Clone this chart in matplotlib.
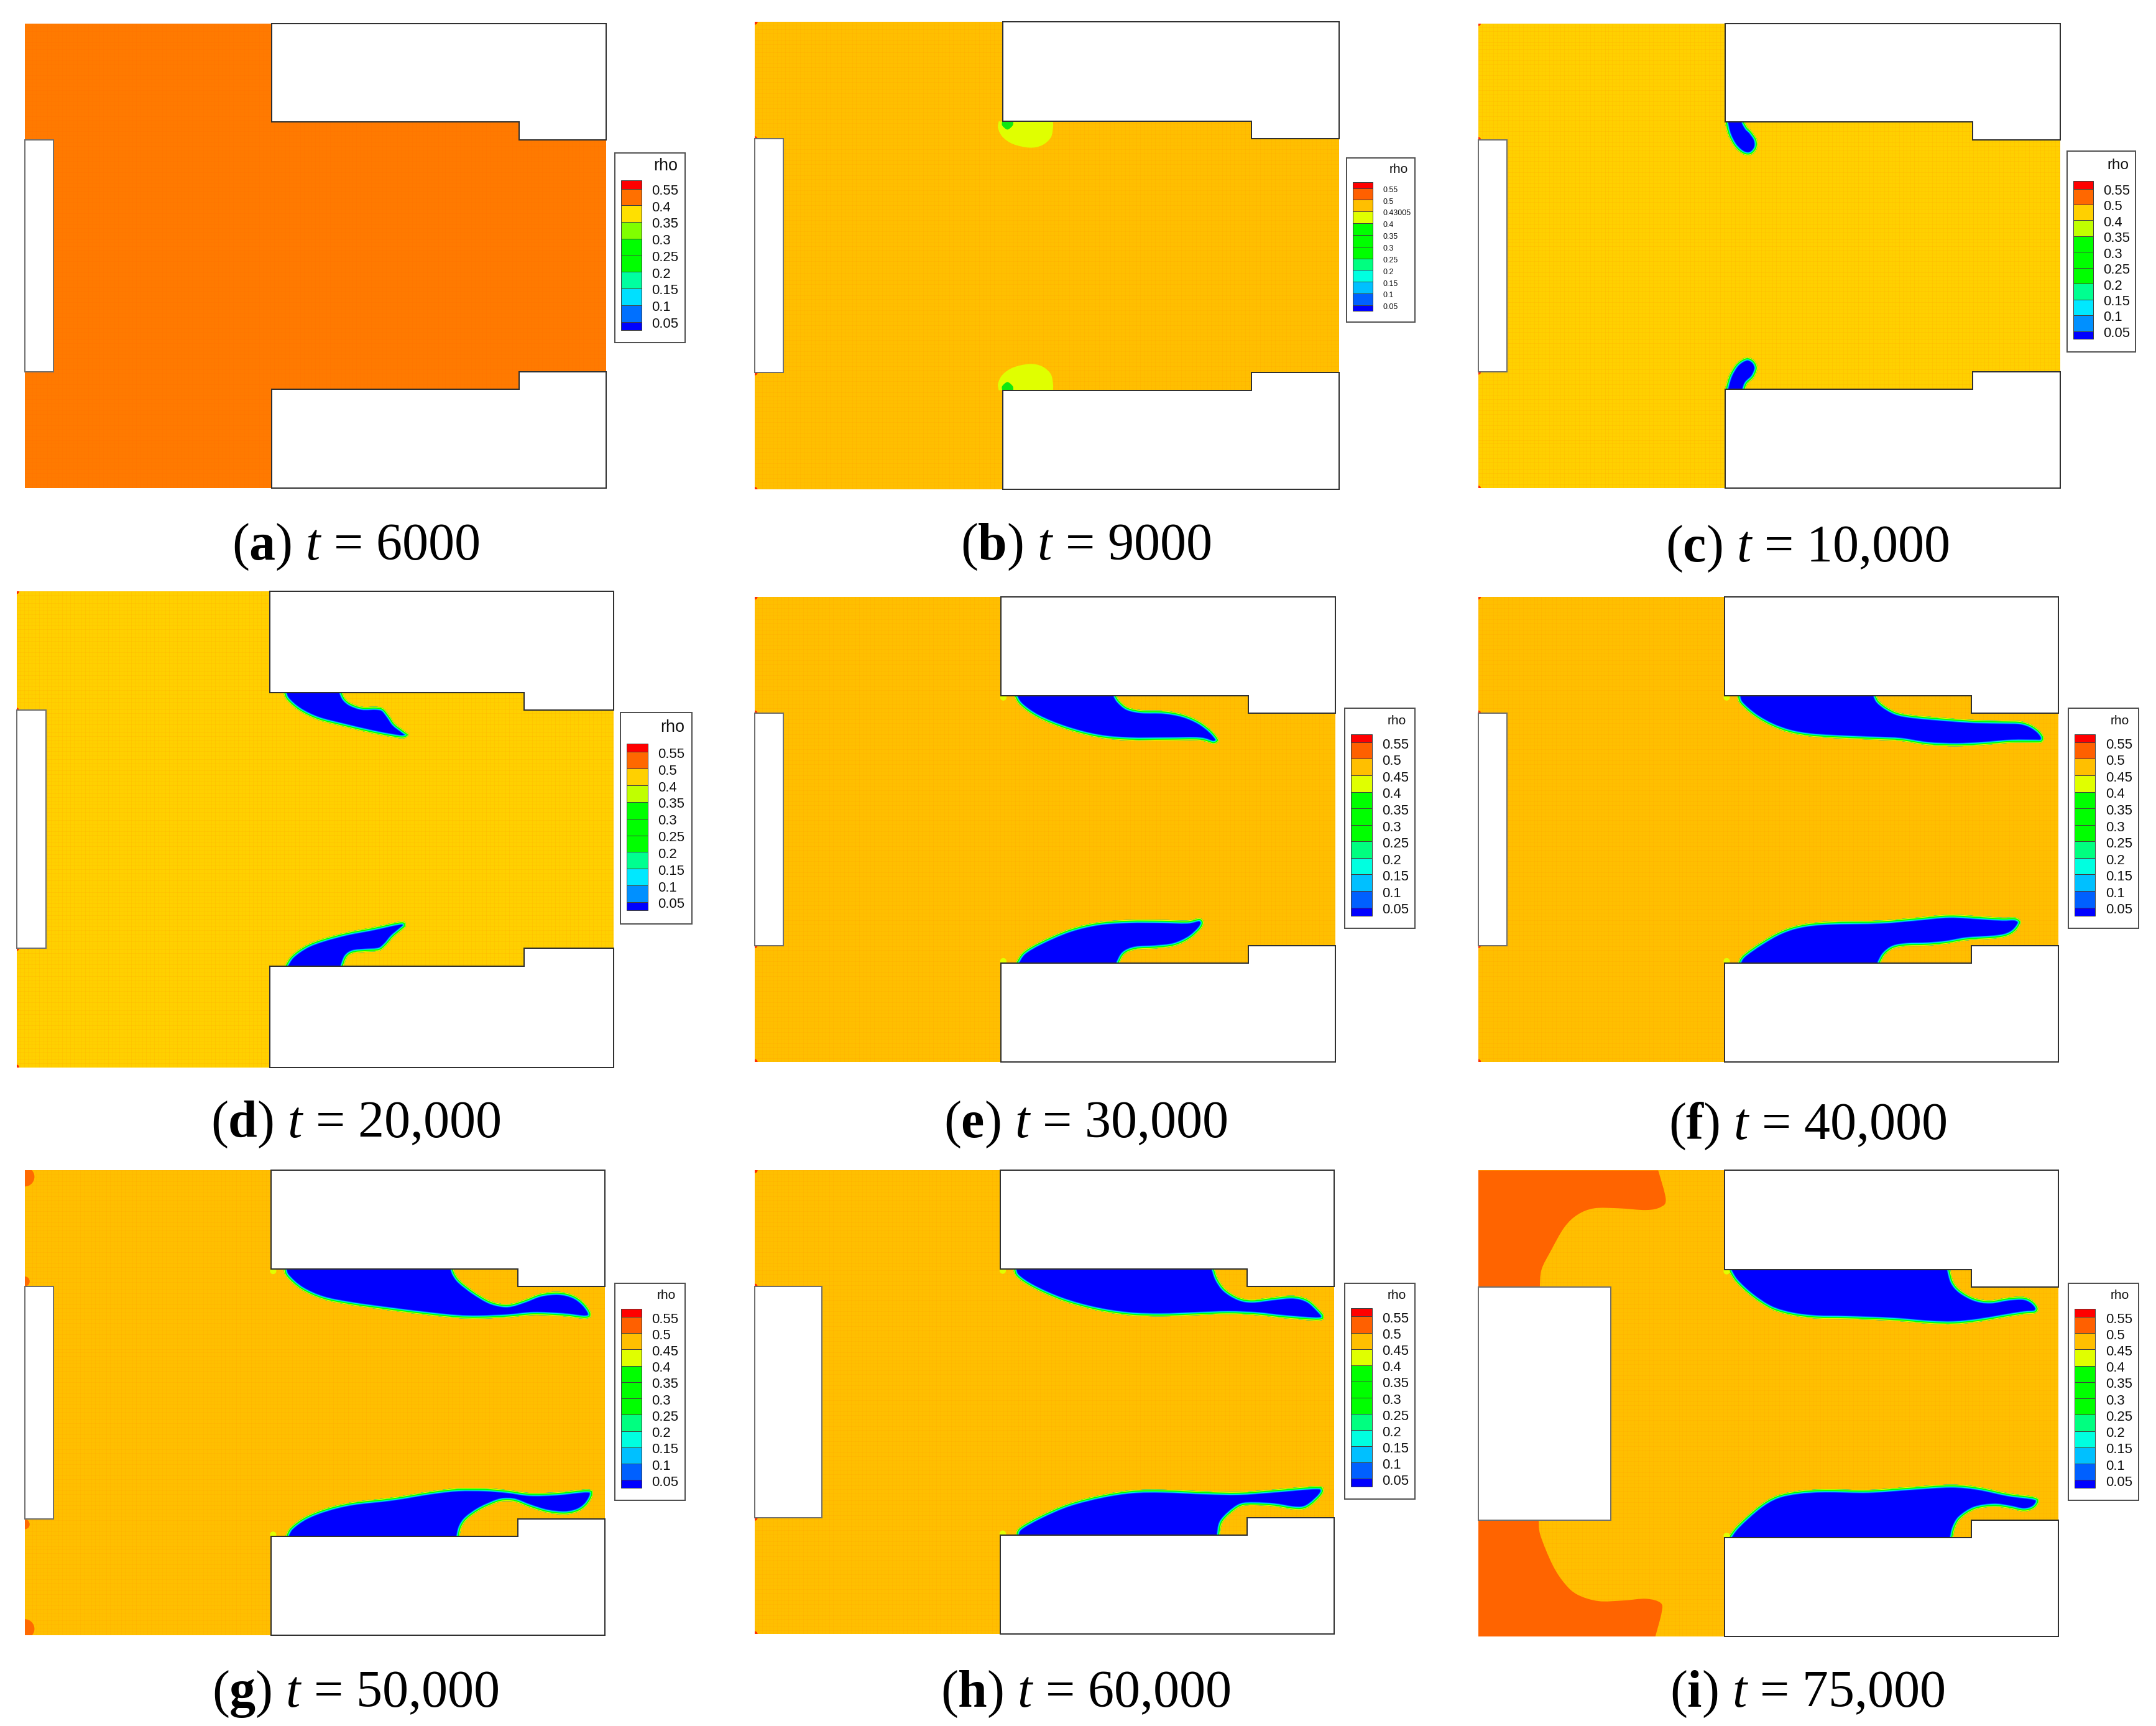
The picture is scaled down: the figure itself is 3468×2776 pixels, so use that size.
import numpy as np
import matplotlib
matplotlib.use("Agg")
import matplotlib.pyplot as plt
from matplotlib.path import Path
from matplotlib.patches import PathPatch, Rectangle, Polygon, Circle

W, H = 3468, 2776
SCALE = 2.212  # boxes below were read at 1/2.212 of full size

plt.rcParams['font.family'] = ['Liberation Sans', 'DejaVu Sans']
plt.rcParams['mathtext.fontset'] = 'custom'
plt.rcParams['mathtext.rm'] = 'Liberation Serif'
plt.rcParams['mathtext.it'] = 'Liberation Serif:italic'
plt.rcParams['mathtext.bf'] = 'Liberation Serif:bold'

# panel text
letters = ['a', 'b', 'c', 'd', 'e', 'f', 'g', 'h', 'i']
times = ['6000', '9000', '10,000', '20,000', '30,000', '40,000', '50,000', '60,000', '75,000']
caption_x = [258.5, 789.5, 1314.5, 258.5, 789.5, 1314.5, 258.5, 789.5, 1314.5]
caption_y = [407, 407, 408, 827, 827, 828, 1241, 1241, 1241]

# panel boxes: left, right, top, bottom
panel_boxes = [(18, 441, 17, 355), (549, 974, 16, 356), (1075, 1498, 17, 355),
               (12, 446, 430, 776), (549, 971, 434, 772), (1075, 1497, 434, 772),
               (18, 440, 851, 1189), (549, 970, 851, 1188), (1075, 1497, 851, 1190)]
legend_boxes = [(447, 498, 111, 249), (979, 1029, 115, 234), (1503, 1553, 110, 256),
                (451, 503, 518, 672), (978, 1029, 515, 675), (1504, 1555, 515, 675),
                (447, 498, 933, 1091), (978, 1029, 933, 1090), (1504, 1555, 933, 1091)]
background = ['#ff7a00', '#ffbf00', '#ffd000', '#ffd000', '#ffbf00', '#ffbf00', '#ffbf00', '#ffbf00', '#ffbf00']
inlet_width = [4.9, 4.9, 4.9, 4.9, 4.9, 4.9, 4.9, 11.6, 22.8]

# geometry in domain units (100 wide, 80 high)
block_x = 42.4
notch_x = 85
wall_top = 17
step_top = 20
step_bot = 60
wall_bot = 63

# rho legend contents
labels_a = ['0.55', '0.4', '0.35', '0.3', '0.25', '0.2', '0.15', '0.1', '0.05']
colors_a = ['#ff0000', '#ff7000', '#ffe000', '#80ff00', '#00ff00', '#00ff00', '#00ffa0', '#00e0ff', '#0070ff', '#0000ff']
labels_b = ['0.55', '0.5', '0.43005', '0.4', '0.35', '0.3', '0.25', '0.2', '0.15', '0.1', '0.05']
labels_c = ['0.55', '0.5', '0.4', '0.35', '0.3', '0.25', '0.2', '0.15', '0.1', '0.05']
colors_c = ['#ff0000', '#ff6800', '#ffd000', '#c0ff00', '#00ff00', '#00ff00', '#00ff00', '#00ff90', '#00e8ff', '#0090ff', '#0000ff']
labels_e = ['0.55', '0.5', '0.45', '0.4', '0.35', '0.3', '0.25', '0.2', '0.15', '0.1', '0.05']
colors_e = ['#ff0000', '#ff6000', '#ffbf00', '#e0ff00', '#00ff00', '#00ff00', '#00ff00', '#00ff80', '#00ffe0', '#00c0ff', '#0060ff', '#0000ff']
legend_labels = [labels_a, labels_b, labels_c, labels_c, labels_e, labels_e, labels_e, labels_e, labels_e]
legend_colors = [colors_a, colors_e, colors_c, colors_c, colors_e, colors_e, colors_e, colors_e, colors_e]
label_size = [15.9, 9, 15.9, 15.9, 15.9, 15.9, 15.9, 15.9, 15.9]
title_size = [19.4, 15, 17.5, 19.4, 15, 15, 15, 15, 15]

# low density region outlines
blob_b_top = [(41.7, 17), (41.6, 18.2), (42.4, 19.7), (44.2, 20.9), (47, 21.5), (49.1, 21.1), (50.6, 19.8), (51, 18.1), (51, 17)]
blob_b_bot = [(41.7, 63), (41.6, 61.8), (42.4, 60.3), (44.2, 59.1), (47, 58.5), (49.1, 58.9), (50.6, 60.2), (51, 61.9), (51, 63)]
spot_b_top = [(42.3, 17), (42.3, 17.7), (43.2, 18.4), (44.1, 17.7), (44.2, 17)]
spot_b_bot = [(42.3, 63), (42.3, 62.3), (43.2, 61.6), (44.1, 62.3), (44.2, 63)]
blob_c_top = [(42.4, 17), (42.9, 19.1), (44, 21.2), (45.5, 22.5), (46.9, 22.6), (47.9, 21.5), (47.9, 20), (47, 18.6), (46.3, 17.9), (45.8, 17)]
blob_c_bot = [(42.4, 63), (43.1, 60.6), (44.4, 58.5), (46.1, 57.5), (47.4, 58), (48, 59.3), (47.4, 60.9), (46.3, 62), (45.9, 63)]
blob_d_top = [(44.7, 17), (45.3, 18.3), (47.4, 20.1), (50.5, 21.6), (54.7, 22.7), (58.9, 23.7), (62.4, 24.4), (64.8, 24.7), (65.7, 24.1), (64.8, 23.3),
              (63.4, 22.2), (62.5, 20.9), (61.5, 19.7), (60.3, 19.4), (57.9, 19.4), (56.1, 18.8), (55.1, 18), (54.6, 17)]
blob_d_bot = [(44.9, 63), (46.1, 61.2), (48.5, 59.5), (51.3, 58.4), (55.4, 57.3), (59.6, 56.5), (64.5, 55.5), (65.2, 56.3), (64.5, 57), (63.1, 58.2),
              (62, 59.5), (60.8, 60.4), (58.5, 60.6), (56.5, 60.8), (55.4, 61.5), (54.8, 63)]
blob_e_top = [(44.6, 17), (45.7, 18.7), (48.7, 20.8), (53.6, 22.8), (59.1, 24.2), (64.5, 24.7), (71.1, 24.7), (76.6, 24.7), (79, 25.3), (79.9, 24.6),
              (78.7, 23), (76.6, 21.4), (73.8, 20.2), (70.5, 19.6), (66.7, 19.5), (64.3, 19), (62.9, 17.9), (62.3, 17)]
blob_e_bot = [(44.9, 63), (46.2, 61.1), (49.2, 59.3), (54.1, 57.2), (59.1, 56), (64.5, 55.6), (70, 55.6), (74.4, 55.7), (76.6, 55.3), (77.3, 56),
              (76.8, 57.2), (74.9, 58.9), (72.2, 60.1), (68.9, 60.5), (65.6, 60.7), (63.7, 61.5), (62.8, 63)]
blob_f_top = [(44.6, 17), (45.1, 18.4), (47.6, 20.6), (50.6, 22.3), (53.7, 23.4), (57.1, 24), (61.3, 24.3), (68.6, 24.6), (72.8, 24.8), (77.4, 25.5),
              (82.3, 25.7), (86.9, 25.5), (91.9, 25.1), (96.1, 25.1), (97, 25.1), (97.5, 24.3), (96.8, 23.1), (95.3, 22), (93.4, 21.4), (90.7, 21.3),
              (85.8, 21.2), (81.2, 20.9), (75.4, 20.4), (72.4, 19.9), (70.5, 19), (69.1, 17.9), (68.6, 17)]
blob_f_bot = [(44.7, 63), (45.6, 61.6), (48.7, 59.4), (52.1, 57.5), (55.6, 56.4), (60.2, 55.9), (69.3, 55.7), (75.4, 55.2), (81.2, 54.7), (86.9, 55),
              (90.3, 55.2), (92.6, 55.2), (93.5, 56), (92.6, 57.5), (91.1, 58.4), (88.8, 58.8), (84.2, 59.1), (80.7, 59.7), (77.4, 60), (73.9, 60.1),
              (71.6, 60.5), (70.1, 61.6), (69.3, 63)]
blob_g_top = [(44.6, 17), (45.1, 18.3), (47.6, 20.5), (51.4, 22.2), (56.4, 23.2), (62.9, 24.1), (69.4, 24.9), (74.4, 25.4), (78.2, 25.5), (83.2, 25.3),
              (87.7, 24.9), (92.7, 25.1), (96.7, 25.5), (97.6, 24.7), (96.5, 22.9), (94.6, 21.5), (92, 20.9), (88.9, 21.2), (86.2, 22.2), (84, 22.9),
              (82.4, 23), (80.1, 22.4), (77.4, 20.8), (75.1, 19), (74.2, 17.8), (73.9, 17)]
blob_g_bot = [(44.9, 63), (45.8, 61.4), (48.3, 59.6), (51.8, 58.2), (56.4, 57.1), (63.3, 56.3), (70.1, 55.2), (74.7, 54.7), (79.3, 54.7), (83.2, 55),
              (87, 55.5), (91.6, 55.4), (97, 54.9), (97.9, 55.7), (97, 57.5), (95.4, 58.7), (93.1, 59.2), (90, 58.9), (87, 58), (84.7, 57.1),
              (83.3, 56.9), (81.6, 57.1), (78.6, 58.4), (76.3, 60), (75.3, 61.4), (74.9, 63)]
blob_h_top = [(44.6, 17), (45.2, 18.4), (48, 20.3), (53, 22.5), (58.7, 24.1), (64.5, 25), (70.2, 25.2), (76, 25), (81.7, 24.8), (86.7, 25),
              (91.3, 25.5), (97.4, 25.9), (98.3, 25.1), (97.4, 23.9), (95.9, 22.5), (94.3, 21.8), (92.4, 21.6), (89.4, 21.9), (85.9, 22.3), (83.6, 21.9),
              (81.3, 20.5), (80, 18.7), (79.4, 17)]
blob_h_bot = [(45, 63), (45.7, 61.6), (49.2, 59.6), (54.1, 57.5), (59.9, 56), (65.2, 55.2), (70.6, 55.1), (77.9, 55.4), (83.6, 55.5), (89.4, 55.1),
              (97, 54.5), (98.2, 55.1), (97.8, 56.2), (96.1, 57.8), (94.7, 58.5), (92.8, 58.5), (89.7, 58), (86.3, 57.8), (84, 58), (82.1, 59.3),
              (80.7, 60.9), (80.3, 63)]
blob_i_top = [(43, 17), (44.3, 19.1), (47, 21.6), (50.4, 23.8), (54.1, 24.9), (58.3, 25.4), (63.5, 25.5), (71.4, 25.8), (77.7, 26.3), (81.9, 26.4),
              (86.1, 26), (90.3, 25.3), (94, 24.7), (96, 24.5), (96.5, 23.6), (95.6, 22.4), (94, 21.7), (91.4, 21.8), (88.2, 22.3), (85.6, 21.9),
              (83.2, 20.6), (81.9, 19.1), (81.3, 17)]
blob_i_bot = [(43, 63), (44.6, 60.9), (48.3, 57.6), (51.4, 55.8), (55.1, 55), (59.8, 54.7), (67.2, 54.8), (74.6, 54.3), (81.4, 53.9), (86.1, 54.3),
              (91.4, 55.4), (95.8, 56), (96.6, 56.8), (95.8, 58), (94, 58.5), (91.4, 58), (88.8, 57.7), (85.6, 58.2), (83.2, 59.7), (82.2, 61.3), (81.8, 63)]
lobe_i_top = [(31, 0), (32.3, 4.9), (31.4, 6.3), (28.9, 6.8), (24.2, 6.5), (20, 6.5), (17.1, 7.6), (14.8, 9.8), (12.5, 13.8), (10.9, 17), (10.6, 20)]
lobe_i_bot = [(10.4, 60), (10.7, 62.6), (12.8, 67.7), (14.9, 70.9), (17.1, 72.8), (20.7, 73.9), (25, 73.8), (28.9, 73.5), (31.4, 74.2), (31.6, 75.8), (30.5, 80)]

panel_blobs = [[], [], [blob_c_top, blob_c_bot], [blob_d_top, blob_d_bot], [blob_e_top, blob_e_bot],
               [blob_f_top, blob_f_bot], [blob_g_top, blob_g_bot], [blob_h_top, blob_h_bot], [blob_i_top, blob_i_bot]]

# corner spots: u, v, radius, colour
spots_small = [(0, 0, 0.45, '#ff3000'), (0, 80, 0.45, '#ff3000'), (0, 20, 0.45, '#ff3000'), (0, 60, 0.45, '#ff3000')]
spots_g = [(0, 1.1, 1.67, '#ff6a00'), (0, 78.9, 1.67, '#ff6a00'), (0, 19.1, 0.85, '#ff6a00'), (0, 60.9, 0.85, '#ff6a00')]
spots_wall = [(42.8, 17.3, 0.55, '#e0ff00'), (42.8, 62.7, 0.55, '#e0ff00')]
panel_spots = [[], spots_small, spots_small, spots_small, spots_small + spots_wall, spots_small + spots_wall,
               spots_g + spots_wall, spots_small + spots_wall, spots_wall]

# contour bands, outermost last so it ends up on top: colour, depth inside the outline in px
BANDS = [('#0060ff', 5.4), ('#00f0e0', 4.4), ('#00ff00', 3.0), ('#e0ff00', 1.2)]


def smooth_path(pts, extra=()):
    # Catmull-Rom through the read points, as cubic Bezier segments
    p = np.array(pts, dtype=float)
    verts = [p[0]]
    codes = [Path.MOVETO]
    for i in range(len(p) - 1):
        p0, p1, p2, p3 = p[max(i - 1, 0)], p[i], p[i + 1], p[min(i + 2, len(p) - 1)]
        verts += [p1 + (p2 - p0) / 6, p2 - (p3 - p1) / 6, p2]
        codes += [Path.CURVE4] * 3
    for e in extra:
        verts.append(e)
        codes.append(Path.LINETO)
    verts.append(p[0])
    codes.append(Path.CLOSEPOLY)
    return Path(verts, codes)


def px(w):
    return w * 72 / 100


def draw_blob(ax, pts):
    # close the outline behind the wall block so no band runs along the wall
    y_back = pts[0][1] + (-4 if pts[0][1] < 40 else 4)
    path = smooth_path(pts, [(pts[-1][0], y_back), (pts[0][0], y_back)])
    ax.add_patch(PathPatch(path, fc='#0000ff', ec='none', zorder=3))
    for color, depth in BANDS:
        band = PathPatch(path, fc='none', ec=color, lw=px(depth * 2), joinstyle='round', zorder=3)
        ax.add_patch(band)
        band.set_clip_path(path, ax.transData)


def draw_panel(i):
    left, right, top, bottom = [v * SCALE for v in panel_boxes[i]]
    ax = fig.add_axes([left / W, 1 - bottom / H, (right - left) / W, (bottom - top) / H])
    ax.set_xlim(0, 100)
    ax.set_ylim(80, 0)
    ax.axis('off')
    ax.add_patch(Rectangle((0, 0), 100, 80, fc=background[i], ec='none', zorder=1))

    # faint mesh texture
    cell = 0.64
    grid_color = '#ff9000' if i > 0 else '#ff6a00'
    ax.vlines(np.arange(0, 100, cell), 0, 80, color=grid_color, lw=0.5, alpha=0.18, zorder=1.5)
    ax.hlines(np.arange(0, 80, cell), 0, 100, color=grid_color, lw=0.5, alpha=0.18, zorder=1.5)

    if i == 8:
        ax.add_patch(PathPatch(smooth_path(lobe_i_top, [(0, 20), (0, 0)]), fc='#ff6400', ec='none', zorder=2))
        ax.add_patch(PathPatch(smooth_path(lobe_i_bot, [(0, 80), (0, 60)]), fc='#ff6400', ec='none', zorder=2))
    if i == 1:
        for blob, spot in [(blob_b_top, spot_b_top), (blob_b_bot, spot_b_bot)]:
            ax.add_patch(PathPatch(smooth_path(blob), fc='#e0ff00', ec='none', zorder=3))
            ax.add_patch(PathPatch(smooth_path(spot), fc='#10e810', ec='none', zorder=3))
    for blob in panel_blobs[i]:
        draw_blob(ax, blob)
    for u, v, r, color in panel_spots[i]:
        ax.add_patch(Circle((u, v), r, fc=color, ec='none', zorder=3))

    # keep spots inside the domain on the left side
    ax.add_patch(Rectangle((-3, -1), 3, 82, fc='white', ec='none', zorder=3.5, clip_on=False))

    # solid blocks and inlet on top of the field
    upper = [(block_x, 0), (100, 0), (100, step_top), (notch_x, step_top), (notch_x, wall_top), (block_x, wall_top)]
    lower = [(block_x, 80), (100, 80), (100, step_bot), (notch_x, step_bot), (notch_x, wall_bot), (block_x, wall_bot)]
    for poly in (upper, lower):
        ax.add_patch(Polygon(poly, closed=True, fc='white', ec='#303030', lw=px(2), zorder=4, clip_on=False))
    ax.add_patch(Rectangle((0, step_top), inlet_width[i], step_bot - step_top, fc='white', ec='#707070', lw=px(2), zorder=4, clip_on=False))


def draw_legend(i):
    left, right, top, bottom = [v * SCALE for v in legend_boxes[i]]
    ax = fig.add_axes([left / W, 1 - bottom / H, (right - left) / W, (bottom - top) / H])
    ax.set_xlim(0, 1)
    ax.set_ylim(1, 0)
    ax.set_xticks([])
    ax.set_yticks([])
    for spine in ax.spines.values():
        spine.set_color('#505050')
        spine.set_linewidth(px(2))

    colors = legend_colors[i]
    labels = legend_labels[i]
    bar_top = 0.147 if i < 4 else 0.117
    bar_bot = 0.935 if i < 4 else 0.943
    step = (bar_bot - bar_top) / (len(colors) - 1)
    y = bar_top
    for k, color in enumerate(colors):
        h = step / 2 if k in (0, len(colors) - 1) else step
        ax.add_patch(Rectangle((0.09, y), 0.295, h, fc=color, ec='#404040', lw=px(1)))
        if k < len(labels):
            ax.text(0.53, y + h + 0.012, labels[k], fontsize=label_size[i], va='center', ha='left', color='#101010')
        y += h
    ax.text(0.9 if i < 4 else 0.87, 0.07 if i < 4 else 0.057, 'rho', fontsize=title_size[i], va='center', ha='right', color='#101010')


fig = plt.figure(figsize=(W / 100, H / 100), dpi=100, facecolor='white')

for n in range(9):
    draw_panel(n)
    draw_legend(n)
    caption = r'($\mathbf{%s}$) $\mathit{t}$ = %s' % (letters[n], times[n])
    fig.text(caption_x[n] * SCALE / W, 1 - caption_y[n] * SCALE / H, caption, fontsize=60.5,
             family='Liberation Serif', ha='center', va='baseline', color='black')

fig.savefig('out.png', dpi=100)
